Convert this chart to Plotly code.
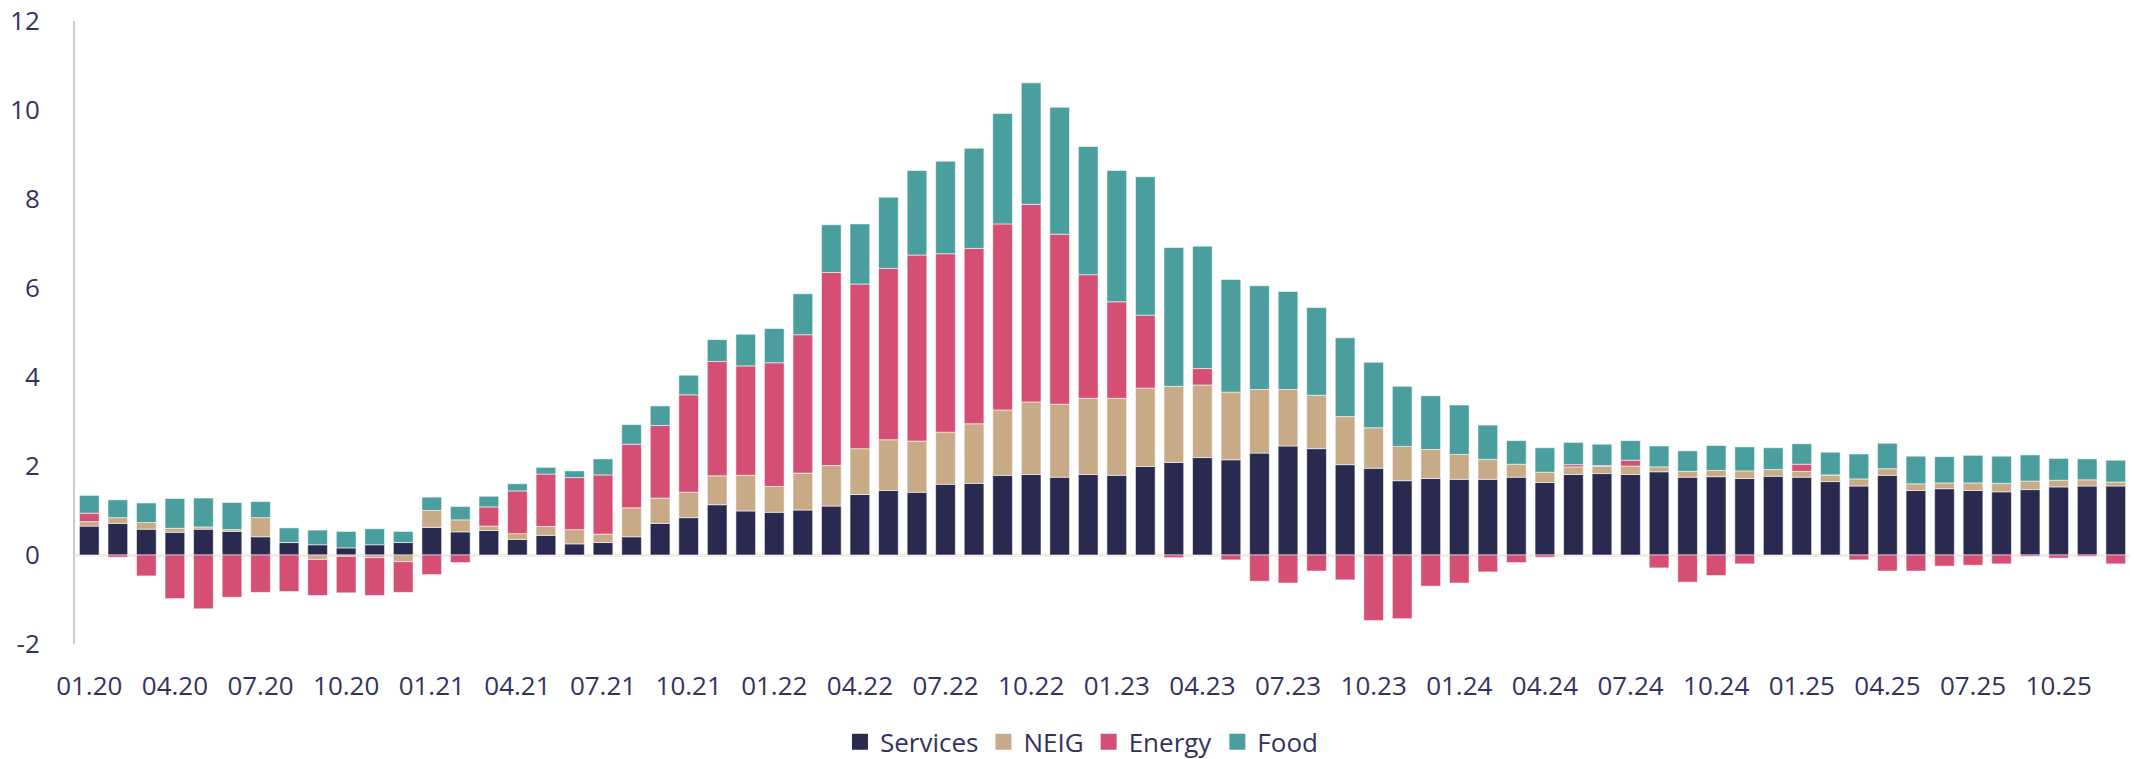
import plotly.graph_objects as go

years = ["20", "21", "22", "23", "24", "25"]
months = ["01", "02", "03", "04", "05", "06", "07", "08", "09", "10", "11", "12"]
categories = [f"{m}.{y}" for y in years for m in months]
tick_labels = [c for c in categories if c[:2] in ("01", "04", "07", "10")]
y_ticks = [-2, 0, 2, 4, 6, 8, 10, 12]
y_tick_text = ["-2", "0", "2", "4", "6", "8", "10", "12"]

services = [0.65, 0.71, 0.58, 0.51, 0.58, 0.53, 0.41, 0.28, 0.23, 0.16, 0.23, 0.28,
            0.62, 0.52, 0.55, 0.35, 0.44, 0.25, 0.28, 0.41, 0.71, 0.84, 1.13, 0.99,
            0.96, 1.01, 1.10, 1.36, 1.45, 1.41, 1.59, 1.61, 1.79, 1.81, 1.75, 1.81,
            1.79, 1.99, 2.08, 2.19, 2.14, 2.29, 2.45, 2.39, 2.03, 1.95, 1.67, 1.72,
            1.70, 1.70, 1.75, 1.63, 1.81, 1.83, 1.81, 1.87, 1.75, 1.76, 1.72, 1.77,
            1.75, 1.65, 1.55, 1.79, 1.45, 1.49, 1.45, 1.42, 1.47, 1.53, 1.55, 1.55]

neig = [0.10, 0.13, 0.15, 0.09, 0.05, 0.04, 0.43, 0.00, -0.10, -0.03, -0.06, -0.15,
        0.38, 0.27, 0.10, 0.13, 0.20, 0.32, 0.19, 0.65, 0.57, 0.57, 0.65, 0.80,
        0.58, 0.83, 0.91, 1.03, 1.14, 1.15, 1.17, 1.34, 1.47, 1.63, 1.64, 1.71,
        1.73, 1.76, 1.71, 1.63, 1.52, 1.43, 1.27, 1.20, 1.08, 0.91, 0.77, 0.65,
        0.56, 0.45, 0.29, 0.23, 0.17, 0.16, 0.19, 0.11, 0.13, 0.14, 0.17, 0.15,
        0.13, 0.15, 0.16, 0.15, 0.15, 0.13, 0.17, 0.19, 0.19, 0.15, 0.14, 0.09]

energy = [0.19, -0.05, -0.47, -0.98, -1.21, -0.95, -0.84, -0.82, -0.81, -0.82, -0.85, -0.69,
          -0.44, -0.17, 0.43, 0.96, 1.18, 1.17, 1.33, 1.43, 1.63, 2.19, 2.57, 2.46,
          2.78, 3.11, 4.34, 3.70, 3.85, 4.18, 4.01, 3.94, 4.18, 4.44, 3.82, 2.78,
          2.17, 1.64, -0.06, 0.37, -0.11, -0.59, -0.63, -0.36, -0.56, -1.47, -1.43, -0.70,
          -0.63, -0.38, -0.17, -0.05, 0.05, 0.02, 0.13, -0.29, -0.61, -0.46, -0.20, 0.00,
          0.16, 0.00, -0.11, -0.36, -0.36, -0.25, -0.23, -0.20, -0.03, -0.07, -0.03, -0.20]

food = [0.40, 0.40, 0.44, 0.67, 0.65, 0.61, 0.36, 0.33, 0.33, 0.37, 0.36, 0.25,
        0.30, 0.30, 0.24, 0.16, 0.15, 0.15, 0.36, 0.44, 0.44, 0.44, 0.49, 0.71,
        0.77, 0.92, 1.07, 1.35, 1.60, 1.90, 2.08, 2.25, 2.48, 2.73, 2.85, 2.88,
        2.95, 3.11, 3.12, 2.75, 2.53, 2.33, 2.20, 1.97, 1.77, 1.47, 1.35, 1.21,
        1.11, 0.77, 0.53, 0.55, 0.50, 0.48, 0.44, 0.47, 0.46, 0.56, 0.54, 0.49,
        0.46, 0.51, 0.56, 0.57, 0.62, 0.59, 0.62, 0.61, 0.59, 0.49, 0.47, 0.49]

series_names = ["Services", "NEIG", "Energy", "Food"]
series_values = [services, neig, energy, food]
colors = ["#2a2950", "#c9aa87", "#d44f73", "#4a9e9e"]

TEXT = "#33325e"
FONT = "Open Sans"

fig = go.Figure()
for name, vals, col in zip(series_names, series_values, colors):
    fig.add_trace(go.Bar(
        x=categories, y=vals, name=name, showlegend=False,
        marker=dict(color=col, line=dict(color="rgba(255,255,255,0.55)", width=1)),
    ))
# legend entries with larger square swatches
for name, col in zip(series_names, colors):
    fig.add_trace(go.Scatter(
        x=[None], y=[None], mode="markers", name=name,
        marker=dict(symbol="square", size=17, color=col),
    ))

fig.update_layout(
    width=2134, height=759,
    barmode="relative",
    bargap=0.31,
    paper_bgcolor="white",
    plot_bgcolor="white",
    font=dict(family=FONT, color=TEXT, size=26),
    margin=dict(l=75, r=4, t=21, b=115, autoexpand=False),
    legend=dict(
        orientation="h", x=0.49, xanchor="center", y=-0.157, yanchor="middle",
        font=dict(family=FONT, size=26, color=TEXT),
        itemsizing="trace", tracegroupgap=0, itemwidth=30,
    ),
    xaxis=dict(
        type="category",
        range=[-0.5, 71.5],
        tickmode="array",
        tickvals=tick_labels,
        ticktext=tick_labels,
        showgrid=False, showline=False, ticks="",
        tickfont=dict(family=FONT, size=26, color=TEXT),
        ticklabelstandoff=24,
        automargin=False,
    ),
    yaxis=dict(
        range=[-2, 12],
        tickmode="array",
        tickvals=y_ticks,
        ticktext=y_tick_text,
        showgrid=False,
        showline=True, linecolor="#cccccc", linewidth=2,
        zeroline=True, zerolinecolor="#f1ece5", zerolinewidth=3,
        ticks="",
        tickfont=dict(family=FONT, size=26, color=TEXT),
        ticklabelstandoff=28,
        ticklabeloverflow="allow",
        automargin=False,
    ),
)

# remove the browser's default 8px body margin so the figure sits at the page origin
fig.write_html(
    "out.html",
    config={"displayModeBar": False},
    post_script="document.body.style.margin='0px';",
)
